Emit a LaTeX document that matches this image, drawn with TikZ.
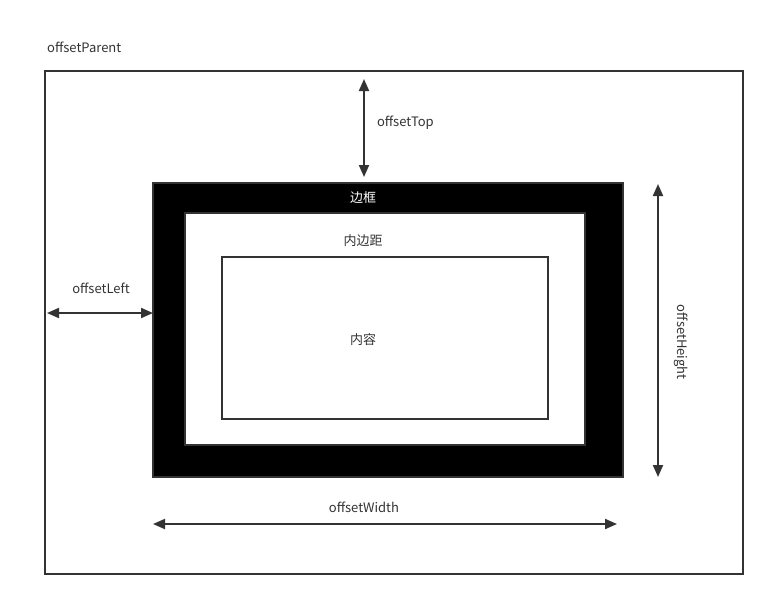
\documentclass[tikz,border=0pt]{standalone}
\usepackage{fontspec}
\setmainfont{Noto Sans CJK SC}
\usepackage{xcolor}
\usepackage{tikz}
\usetikzlibrary{arrows.meta, positioning}
\definecolor{ink}{HTML}{333333}

\begin{document}
\begin{tikzpicture}[x=1pt,y=-1pt,
	font=\fontsize{13}{15}\selectfont,
	>={Triangle[length=12pt,width=10pt]},
	box/.style={rectangle,draw=ink,inner sep=0pt,outer sep=0pt},
	dim/.style={<->,ink,line width=2pt},
	lbl/.style={text=ink,inner sep=0pt}]
	\useasboundingbox (0,0) rectangle (768,598);
	% boxes
	\node[box,line width=2pt,minimum width=698pt,minimum height=503pt] at (394,322.5) (parent) {};
	\node[box,fill=black,line width=1.5pt,minimum width=470pt,minimum height=294pt] at (388,330) (border) {};
	\node[box,fill=white,line width=1.5pt,minimum width=400pt,minimum height=232pt] at (385,329) (padding) {};
	\node[box,fill=white,line width=1.5pt,minimum width=326pt,minimum height=162pt] at (385,338) (content) {};
	% labels
	\node[lbl,anchor=west] at (47,47) (parentlbl) {offsetParent};
	\node[lbl,text=white] at (363,198) (borderlbl) {边框};
	\node[lbl] at (363,241) (paddinglbl) {内边距};
	\node[lbl] at (363,340) (contentlbl) {内容};
	% arrow ends
	\coordinate (topA) at (364,79);
	\coordinate (topB) at (364,177);
	\coordinate (leftA) at (47,313);
	\coordinate (leftB) at (153,313);
	\coordinate (heightA) at (658,184);
	\coordinate (heightB) at (658,477);
	\coordinate (widthA) at (153,524);
	\coordinate (widthB) at (617,524);
	% offsets
	\draw[dim] (topA)--(topB) node[lbl,midway,anchor=west,xshift=12pt,yshift=5pt] (toplbl) {offsetTop};
	\draw[dim] (leftA)--(leftB) node[lbl,midway,yshift=25pt,xshift=1pt] (leftlbl) {offsetLeft};
	\draw[dim] (heightA)--(heightB) node[lbl,pos=0.54,xshift=23pt,rotate=-90] (heightlbl) {offsetHeight};
	\draw[dim] (widthA)--(widthB) node[lbl,midway,yshift=17pt,xshift=-21pt] (widthlbl) {offsetWidth};
\end{tikzpicture}
\end{document}
